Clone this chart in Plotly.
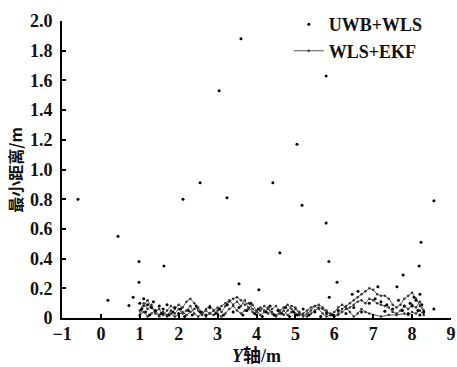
import plotly.graph_objects as go

# ---------------- data ----------------
# UWB+WLS: scattered single-point estimates (Y position, minimum distance)
uwb_x = [-0.59, 0.18, 0.44, 0.72, 0.83, 0.98, 0.98, 1.62, 2.11, 2.55, 3.04, 3.24,
         3.55, 3.60, 4.06, 4.42, 4.60, 5.04, 5.17, 5.79, 5.79, 5.86, 5.87, 6.07,
         6.46, 6.61, 7.12, 7.30, 7.61, 7.77, 7.80, 8.18, 8.20, 8.23, 8.56, 8.56,
         1.00, 1.05, 1.10, 1.15, 1.20, 1.25, 1.30, 1.35, 1.40, 1.50, 1.55, 1.60,
         1.70, 1.75, 1.85, 1.90, 2.00, 2.05, 2.15, 2.25, 2.35, 2.45, 2.55, 2.70,
         2.80, 2.95, 3.05, 3.15, 3.25, 3.40, 3.55, 3.65, 3.75, 3.85, 3.95, 4.05,
         4.15, 4.25, 4.35, 4.45, 4.55, 4.65, 4.75, 4.85, 4.95, 5.05, 5.20, 5.35,
         5.50, 5.65, 5.80, 5.95, 6.10, 6.30, 6.50, 6.70, 6.90, 7.05, 7.20, 7.35,
         7.50, 7.65, 7.75, 7.90, 7.95, 8.00, 8.05, 8.10, 8.15, 8.20, 8.25, 8.30]
uwb_y = [0.80, 0.12, 0.55, 0.085, 0.14, 0.38, 0.24, 0.35, 0.80, 0.91, 1.53, 0.81,
         0.23, 1.88, 0.19, 0.91, 0.44, 1.17, 0.76, 1.63, 0.64, 0.38, 0.14, 0.24,
         0.16, 0.18, 0.21, 0.045, 0.21, 0.29, 0.08, 0.35, 0.16, 0.51, 0.79, 0.06,
         0.10, 0.06, 0.13, 0.04, 0.09, 0.02, 0.07, 0.11, 0.05, 0.08, 0.03, 0.06,
         0.09, 0.02, 0.04, 0.07, 0.03, 0.06, 0.01, 0.05, 0.02, 0.08, 0.04, 0.02,
         0.07, 0.03, 0.06, 0.02, 0.09, 0.04, 0.07, 0.02, 0.05, 0.10, 0.03, 0.06,
         0.01, 0.04, 0.08, 0.02, 0.05, 0.03, 0.07, 0.01, 0.04, 0.02, 0.06, 0.02,
         0.04, 0.01, 0.03, 0.02, 0.05, 0.03, 0.07, 0.04, 0.10, 0.13, 0.11, 0.09,
         0.06, 0.12, 0.05, 0.03, 0.10, 0.08, 0.14, 0.12, 0.05, 0.02, 0.09, 0.04]

# WLS+EKF: filtered trajectory, several passes along the Y axis
ekf_x = [1.0, 1.1, 1.2, 1.3, 1.4, 1.5, 1.6, 1.7, 1.8, 1.9, 2.0, 2.1, 2.2, 2.3, 2.4,
         2.5, 2.6, 2.7, 2.8, 2.9, 3.0, 3.1, 3.2, 3.3, 3.4, 3.5, 3.6, 3.7, 3.8, 3.9,
         4.0, 4.1, 4.2, 4.3, 4.4, 4.5, 4.6, 4.7, 4.8, 4.9, 5.0, 5.1, 5.2, 5.3, 5.4,
         5.5, 5.6, 5.7, 5.8, 5.9, 6.0, 6.1, 6.2, 6.3, 6.4, 6.5, 6.6, 6.7, 6.8, 6.9,
         7.0, 7.1, 7.2, 7.3, 7.4, 7.5, 7.6, 7.7, 7.8, 7.9, 8.0, 8.1, 8.2, 8.3,
         8.3, 8.2, 8.1, 8.0, 7.9, 7.8, 7.6, 7.4, 7.2, 7.0, 6.9, 6.8, 6.7, 6.6, 6.5,
         6.4, 6.3, 6.2, 6.1, 6.0, 5.9, 5.8, 5.7, 5.6, 5.5, 5.4, 5.3, 5.2, 5.1, 5.0,
         4.9, 4.8, 4.7, 4.6, 4.5, 4.4, 4.3, 4.2, 4.1, 4.0, 3.9, 3.8, 3.7, 3.6, 3.5,
         3.4, 3.3, 3.2, 3.1, 3.0, 2.9, 2.8, 2.7, 2.6, 2.5, 2.4, 2.3, 2.2, 2.1, 2.0,
         1.9, 1.8, 1.7, 1.6, 1.5, 1.4, 1.3, 1.2, 1.1, 1.0,
         1.0, 1.1, 1.2, 1.3, 1.4, 1.5, 1.6, 1.7, 1.8, 1.9, 2.0, 2.1, 2.2, 2.3, 2.4,
         2.5, 2.6, 2.7, 2.8, 2.9, 3.0, 3.1, 3.2, 3.3, 3.4, 3.5, 3.6, 3.7, 3.8, 3.9,
         4.0, 4.1, 4.2, 4.3, 4.4, 4.5, 4.6, 4.7, 4.8, 4.9, 5.0, 5.1, 5.2, 5.3, 5.4,
         5.5, 5.6, 5.7, 5.8, 5.9, 6.0, 6.1, 6.2, 6.3, 6.4, 6.5, 6.6, 6.7, 6.8, 6.9,
         7.0, 7.1, 7.2, 7.3, 7.4, 7.5, 7.6, 7.7, 7.8, 7.9, 8.0, 8.1, 8.2, 8.3]
ekf_y = [0.02, 0.08, 0.12, 0.07, 0.04, 0.06, 0.02, 0.05, 0.08, 0.06, 0.09, 0.07, 0.11, 0.13, 0.10,
         0.05, 0.02, 0.06, 0.08, 0.05, 0.07, 0.04, 0.08, 0.11, 0.13, 0.14, 0.12, 0.09, 0.10, 0.06,
         0.04, 0.07, 0.05, 0.03, 0.06, 0.08, 0.05, 0.07, 0.09, 0.06, 0.03, 0.02, 0.03, 0.05, 0.07,
         0.08, 0.06, 0.03, 0.01, 0.02, 0.01, 0.03, 0.06, 0.08, 0.10, 0.12, 0.14, 0.16, 0.18, 0.20,
         0.19, 0.16, 0.15, 0.15, 0.13, 0.09, 0.07, 0.09, 0.13, 0.15, 0.17, 0.13, 0.08, 0.04,
         0.02, 0.05, 0.03, 0.04, 0.02, 0.03, 0.02, 0.02, 0.01, 0.02, 0.03, 0.04, 0.06, 0.03, 0.01,
         0.04, 0.07, 0.09, 0.07, 0.04, 0.02, 0.05, 0.07, 0.09, 0.08, 0.05, 0.03, 0.01, 0.03, 0.06,
         0.04, 0.02, 0.05, 0.03, 0.01, 0.03, 0.06, 0.08, 0.05, 0.02, 0.04, 0.07, 0.05, 0.03, 0.05,
         0.08, 0.06, 0.03, 0.01, 0.03, 0.05, 0.03, 0.01, 0.04, 0.07, 0.06, 0.04, 0.02, 0.04, 0.02,
         0.01, 0.03, 0.01, 0.03, 0.02, 0.05, 0.03, 0.01, 0.04, 0.02,
         0.05, 0.10, 0.06, 0.09, 0.03, 0.01, 0.04, 0.02, 0.05, 0.03, 0.06, 0.03, 0.05, 0.08, 0.03,
         0.01, 0.03, 0.05, 0.03, 0.02, 0.05, 0.08, 0.10, 0.12, 0.09, 0.11, 0.08, 0.12, 0.06, 0.09,
         0.05, 0.02, 0.04, 0.07, 0.04, 0.02, 0.04, 0.02, 0.05, 0.08, 0.07, 0.04, 0.02, 0.01, 0.03,
         0.05, 0.07, 0.06, 0.04, 0.03, 0.01, 0.02, 0.04, 0.06, 0.07, 0.09, 0.11, 0.12, 0.10, 0.13,
         0.12, 0.10, 0.09, 0.08, 0.07, 0.04, 0.03, 0.05, 0.08, 0.06, 0.09, 0.07, 0.11, 0.05]

y_tick_vals = [0, 0.2, 0.4, 0.6, 0.8, 1.0, 1.2, 1.4, 1.6, 1.8, 2.0]
y_tick_text = ["0", "0.2", "0.4", "0.6", "0.8", "1.0", "1.2", "1.4", "1.6", "1.8", "2.0"]
x_tick_vals = [-1, 0, 1, 2, 3, 4, 5, 6, 7, 8, 9]
x_tick_text = ["\u22121", "0", "1", "2", "3", "4", "5", "6", "7", "8", "9"]
x_title = "<i>Y</i>轴/m"
y_title = "最小距离/m"

# ---------------- figure ----------------
SERIF = "Liberation Serif, Times New Roman, serif"
TXT = "#111111"
fig = go.Figure()
fig.add_trace(go.Scatter(
    x=ekf_x, y=ekf_y, mode="lines+markers", name="WLS+EKF",
    line=dict(color="#555555", width=1),
    marker=dict(color="#333333", size=2.5),
))
fig.add_trace(go.Scatter(
    x=uwb_x, y=uwb_y, mode="markers", name="UWB+WLS",
    marker=dict(color="black", size=3),
))

axis_common = dict(
    showline=True, linecolor="black", linewidth=2,
    ticks="inside", ticklen=4, tickwidth=1.5, tickcolor="black",
    showgrid=False, zeroline=False, mirror=False, automargin=False,
    tickfont=dict(family=SERIF, size=18, color=TXT, weight="bold"),
)
fig.update_xaxes(range=[-1, 9], tickvals=x_tick_vals, ticktext=x_tick_text,
                 ticklabelstandoff=-2, **axis_common)
fig.update_yaxes(range=[0, 2.0], tickvals=y_tick_vals, ticktext=y_tick_text,
                 ticklabelstandoff=4, **axis_common)

fig.add_annotation(text=x_title, xref="paper", yref="paper",
                   x=0.5, y=-0.127, xanchor="center", yanchor="middle",
                   showarrow=False,
                   font=dict(family="Liberation Serif, Noto Sans CJK SC", size=18,
                             color=TXT, weight="bold"))
fig.add_annotation(text=y_title, xref="paper", yref="paper",
                   x=-0.123, y=0.5, xanchor="center", yanchor="middle",
                   textangle=-90, showarrow=False,
                   font=dict(family="Noto Sans CJK SC", size=16, color=TXT,
                             weight="bold"))

fig.update_layout(
    width=457, height=367,
    margin=dict(l=62, r=6, t=12, b=49),
    plot_bgcolor="white", paper_bgcolor="white",
    showlegend=True,
    legend=dict(x=0.583, y=1.05, xanchor="left", yanchor="top",
                traceorder="reversed",
                bgcolor="rgba(0,0,0,0)", borderwidth=0,
                font=dict(family=SERIF, size=18, color=TXT, weight="bold"),
                itemwidth=30, tracegroupgap=0),
)

fig.write_html("out.html", config={"displayModeBar": False},
               post_script="document.body.style.margin='0';")
